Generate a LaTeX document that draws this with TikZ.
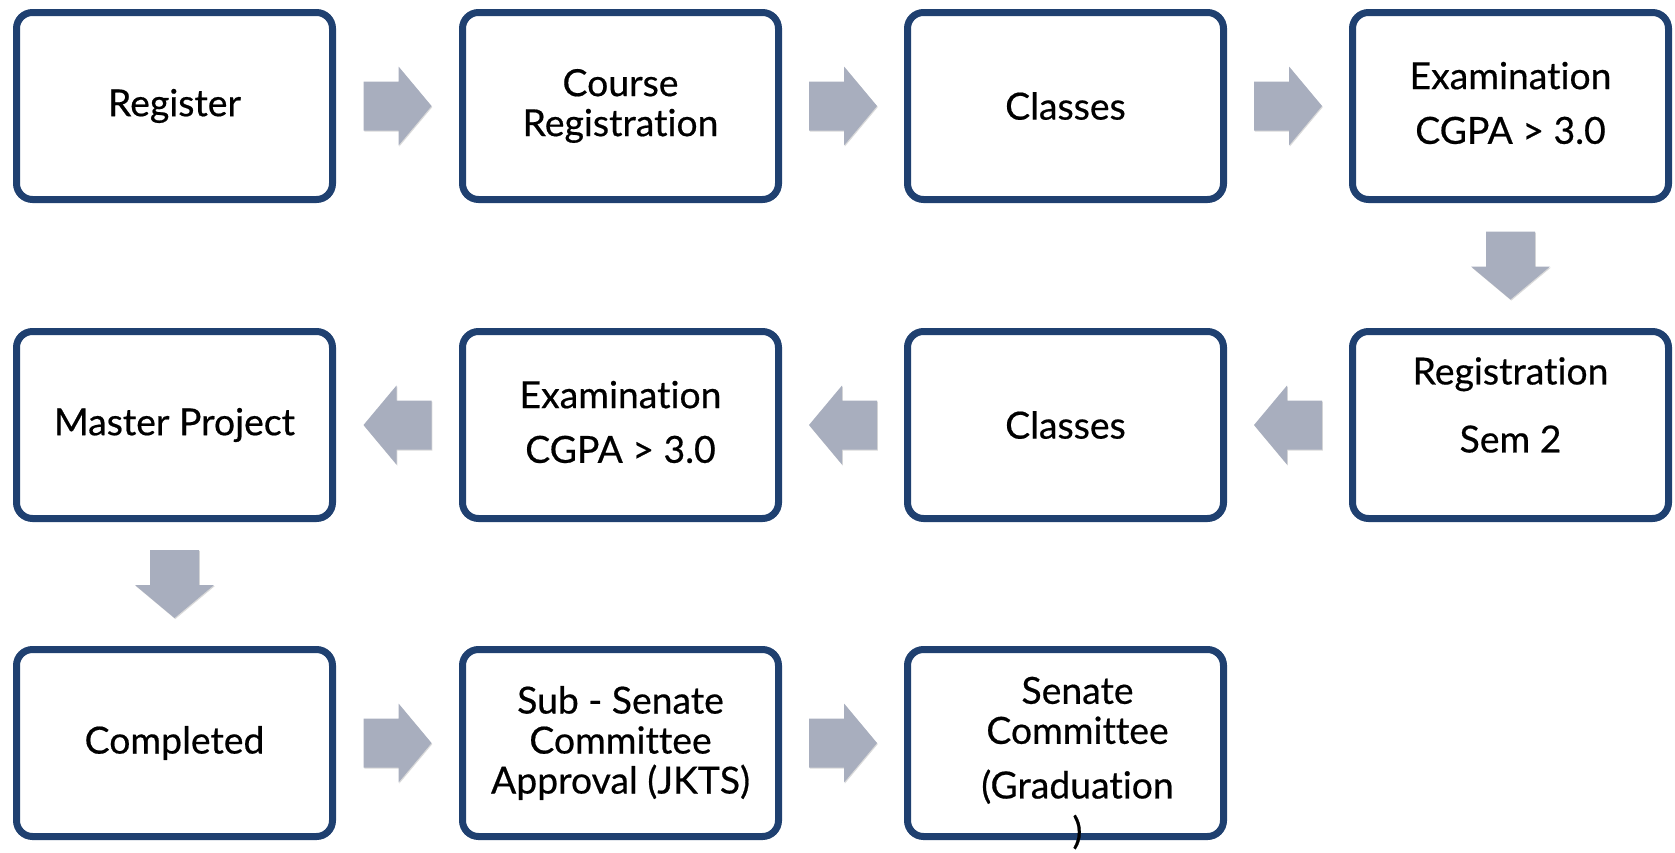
\documentclass[tikz,border=0pt]{standalone}
\usepackage{fontspec}
\setmainfont{Lato}[Ligatures=NoCommon, FakeBold=0.5]
\usetikzlibrary{shadows,calc}
\definecolor{boxblue}{RGB}{31,64,112}
\definecolor{arrowgrey}{RGB}{168,174,190}
\tikzset{
  box/.style={draw=boxblue, line width=5.25pt, rounded corners=12pt, fill=white,
    minimum width=237pt, minimum height=140.25pt, inner sep=0pt,
    drop shadow={shadow xshift=0.8pt, shadow yshift=-2.2pt, opacity=0.22, fill=black}},
  txt/.style={font=\fontsize{28}{30}\selectfont, align=center, inner sep=0pt, text=black},
  arrowfill/.style={fill=arrowgrey, drop shadow={shadow xshift=0.6pt, shadow yshift=-0.8pt, opacity=0.15, fill=black}},
  blockarrow/.pic={
    \path[arrowfill] (-34,-24.5) -- (1,-24.5) -- (1,-39.5) -- (34,0) -- (1,39.5) -- (1,24.5) -- (-34,24.5) -- cycle;
  },
}
\begin{document}
\begin{tikzpicture}[x=0.75pt,y=-0.75pt]
\useasboundingbox (0,0) rectangle (1675,853);
% boxes
\node[box] (b1) at (174.5,106) {};
\node[box] (b2) at (620.5,106) {};
\node[box] (b3) at (1065.5,106) {};
\node[box] (b4) at (1510.5,106) {};
\node[box] (b5) at (1510.5,425) {};
\node[box] (b6) at (1065.5,425) {};
\node[box] (b7) at (620.5,425) {};
\node[box] (b8) at (174.5,425) {};
\node[box] (b9) at (174.5,743) {};
\node[box] (b10) at (620.5,743) {};
\node[box] (b11) at (1065.5,743) {};
% texts
\node[txt] (t1) at (b1) {Register};
\node[txt] (t2) at (b2) {Course\\Registration};
\node[txt] (t3) at (b3) {Classes};
\node[txt] (t4) at ($(b4)+(0,-3)$) {Examination\\[11pt]CGPA > 3.0};
\node[txt] (t5) at ($(b5)+(0,-20)$) {Registration\\[21pt]Sem 2};
\node[txt] (t6) at (b6) {Classes};
\node[txt] (t7) at ($(b7)+(0,-3)$) {Examination\\[11pt]CGPA > 3.0};
\node[txt] (t8) at (b8) {Master Project};
\node[txt] (t9) at (b9) {Completed};
\node[txt] (t10) at (b10) {Sub - Senate\\Committee\\Approval (JKTS)};
\node[txt] (t11) at ($(b11)+(12,20)$) {Senate\\Committee\\[11pt](Graduation\\[4pt])};
% block arrows between boxes
\coordinate (m1) at ($(b1.east)!0.5!(b2.west)$);
\coordinate (m2) at ($(b2.east)!0.5!(b3.west)$);
\coordinate (m3) at ($(b3.east)!0.5!(b4.west)$);
\coordinate (m4) at ($(b4.south)!0.5!(b5.north)$);
\coordinate (m5) at ($(b5.west)!0.5!(b6.east)$);
\coordinate (m6) at ($(b6.west)!0.5!(b7.east)$);
\coordinate (m7) at ($(b7.west)!0.5!(b8.east)$);
\coordinate (m8) at ($(b8.south)!0.5!(b9.north)$);
\coordinate (m9) at ($(b9.east)!0.5!(b10.west)$);
\coordinate (m10) at ($(b10.east)!0.5!(b11.west)$);
\pic (a1) at (m1) {blockarrow};
\pic (a2) at (m2) {blockarrow};
\pic (a3) at (m3) {blockarrow};
\pic[rotate=-90] (a4) at (m4) {blockarrow};
\pic[rotate=180] (a5) at (m5) {blockarrow};
\pic[rotate=180] (a6) at (m6) {blockarrow};
\pic[rotate=180] (a7) at (m7) {blockarrow};
\pic[rotate=-90] (a8) at (m8) {blockarrow};
\pic (a9) at (m9) {blockarrow};
\pic (a10) at (m10) {blockarrow};
\end{tikzpicture}
\end{document}
